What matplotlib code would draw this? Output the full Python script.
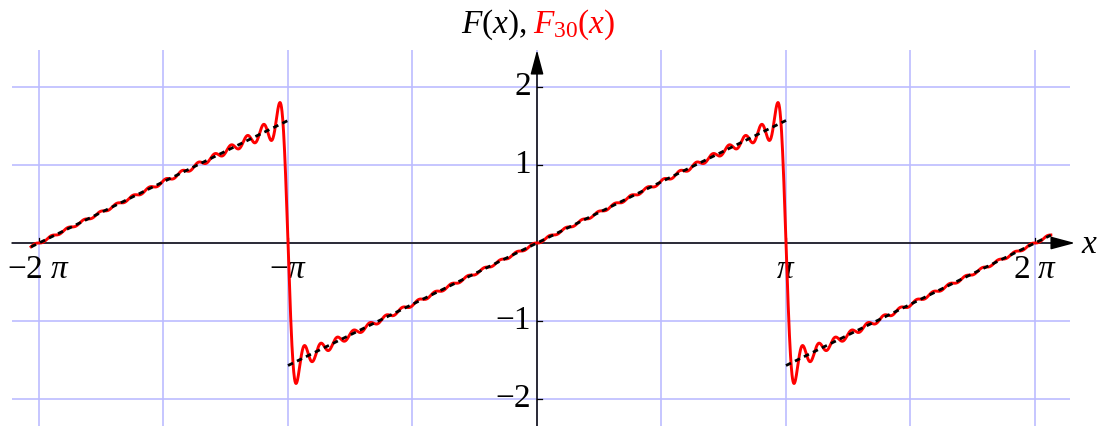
import numpy as np
import matplotlib
matplotlib.use('Agg')
import matplotlib.pyplot as plt

# Шрифты под Mathematica (Times-подобные)
plt.rcParams['font.family'] = 'Liberation Serif'
plt.rcParams['mathtext.fontset'] = 'custom'
plt.rcParams['mathtext.rm'] = 'Liberation Serif'
plt.rcParams['mathtext.it'] = 'Liberation Serif:italic'

# Данные: пила F(x) = x/2 на (-pi, pi) и её частичная сумма Фурье
n_terms = 30
x_start = -2 * np.pi - 0.1
x_end = 2 * np.pi + 0.2
jumps = [-np.pi, np.pi]
x_ticks = [-2 * np.pi, -np.pi, np.pi, 2 * np.pi]
x_tick_labels = [r'$-2\ \pi$', r'$-\pi$', r'$\pi$', r'$2\ \pi$']
y_ticks = [-2, -1, 1, 2]
y_tick_labels = ['\u22122', '\u22121', '1', '2']
x_grid = [k * np.pi / 2 for k in range(-4, 5)]
y_grid = [-2, -1, 0, 1, 2]

x = np.linspace(x_start, x_end, 4000)
n = np.arange(1, n_terms + 1)
f30 = ((-1.0) ** (n + 1) / n * np.sin(np.outer(x, n))).sum(axis=1)

fig = plt.figure(figsize=(10.99, 4.26), dpi=100)
ax = fig.add_axes([0, 0, 1, 1])
ax.axis('off')

# пиксели -> данные
px = np.pi / 249.0
py = 1 / 78.0
ax.set_xlim(-537 * px, (1099 - 537) * px)
ax.set_ylim(-(426 - 243) * py, 243 * py)

gx0, gx1 = -525 * px, 533 * px
gy0, gy1 = -200 * py, 193 * py
ax.vlines(x_grid, gy0, gy1, color='#bcbcff', lw=1.2, zorder=1)
ax.hlines(y_grid, gx0, gx1, color='#bcbcff', lw=1.2, zorder=1)

# оси со стрелками
ax.annotate('', xy=(538 * px, 0), xytext=(gx0, 0),
            arrowprops=dict(arrowstyle='-|>,head_length=1.5,head_width=0.4',
                            mutation_scale=10, color='black', lw=1.1,
                            shrinkA=0, shrinkB=0), zorder=3)
ax.annotate('', xy=(0, gy1), xytext=(0, gy0),
            arrowprops=dict(arrowstyle='-|>,head_length=1.5,head_width=0.4',
                            mutation_scale=10, color='black', lw=1.1,
                            shrinkA=0, shrinkB=0), zorder=3)

for t in x_ticks:
    ax.plot([t, t], [0, 5 * py], color='black', lw=0.9, zorder=3)
for t in y_ticks:
    ax.plot([0, 5 * px], [t, t], color='black', lw=0.9, zorder=3)

for t, lab in zip(x_ticks, x_tick_labels):
    ax.text(t, -12 * py, lab, ha='center', va='top', fontsize=24, zorder=4)
for t, lab in zip(y_ticks, y_tick_labels):
    ax.text(-6 * px, t, lab, ha='right', va='center', fontsize=24, zorder=4)

# частичная сумма
ax.plot(x, f30, color='red', lw=2.1, zorder=5)

# сама функция, без вертикальных скачков
edges = [x_start] + jumps + [x_end]
for a, b in zip(edges[:-1], edges[1:]):
    xs = np.linspace(a, b, 200)
    mid = (a + b) / 2
    shift = 2 * np.pi * np.round(mid / (2 * np.pi))
    ax.plot(xs, (xs - shift) / 2, color='black', lw=2.0,
            dashes=(2.0, 1.6), zorder=6)

fig.text(527 / 1099, 1 - 33 / 426, r'$F(x)$,', ha='right', va='baseline',
         fontsize=24)
fig.text(533 / 1099, 1 - 33 / 426, r'$F_{30}(x)$', ha='left', va='baseline',
         fontsize=24, color='red')
fig.text(1081 / 1099, 1 - 245 / 426, r'$x$', ha='left', va='center',
         fontsize=24)

fig.savefig('out.png', dpi=100)
